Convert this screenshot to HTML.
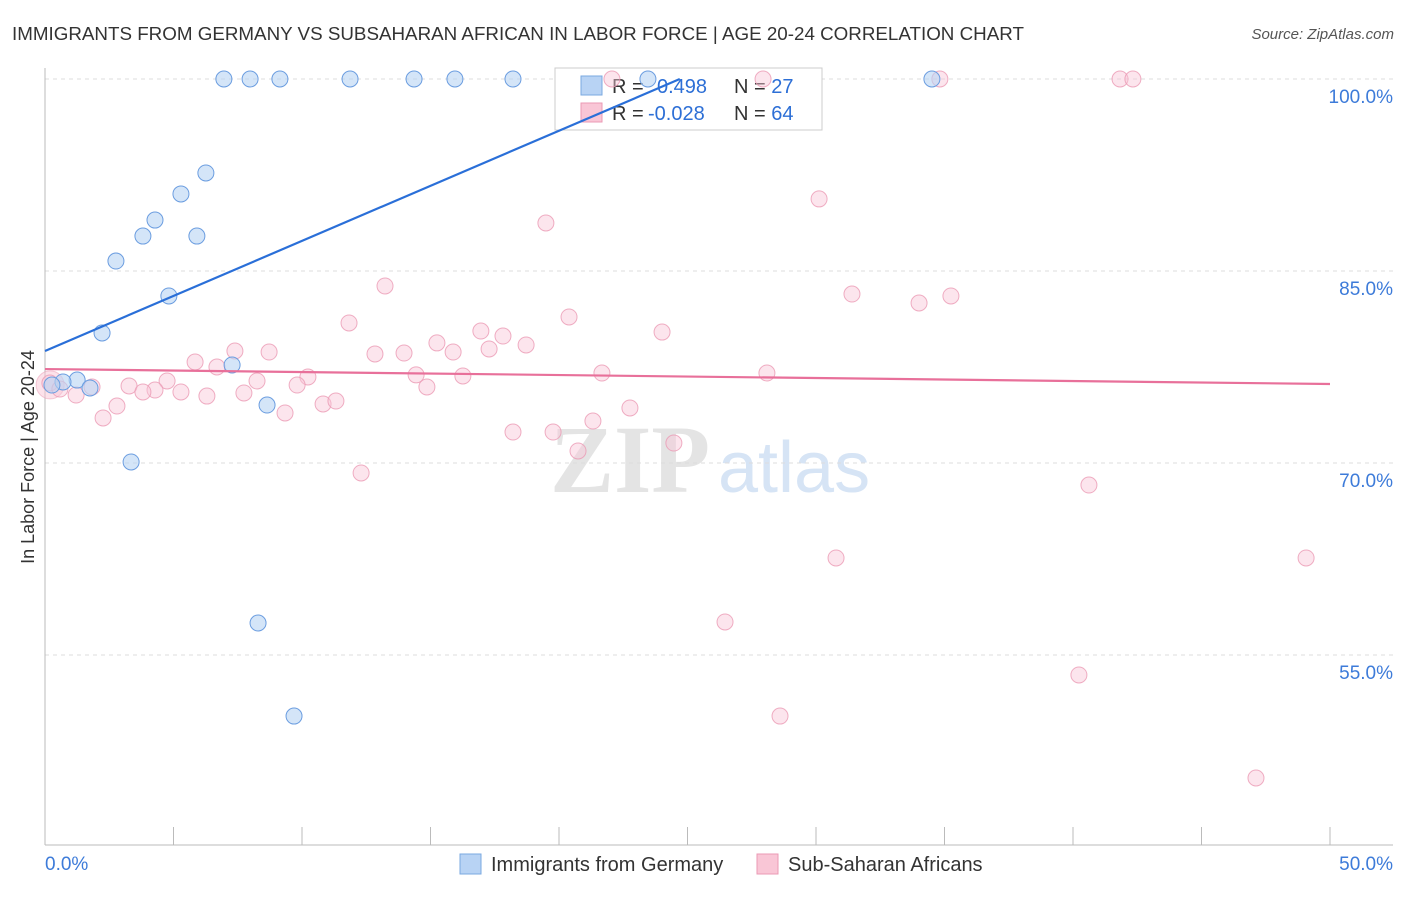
<!DOCTYPE html>
<html><head><meta charset="utf-8"><style>
body{margin:0;background:#fff;font-family:"Liberation Sans",sans-serif;}
</style></head><body>
<svg id="chart" width="1406" height="892" xmlns="http://www.w3.org/2000/svg" style="font-family:'Liberation Sans',sans-serif">
<text x="12" y="40" font-size="18.8" fill="#333">IMMIGRANTS FROM GERMANY VS SUBSAHARAN AFRICAN IN LABOR FORCE | AGE 20-24 CORRELATION CHART</text>
<text x="1394" y="39" font-size="15" fill="#555" font-style="italic" text-anchor="end">Source: ZipAtlas.com</text>
<text x="550" y="492" font-size="96" fill="#e4e4e4" font-weight="bold" font-family="Liberation Serif,serif">ZIP</text>
<text x="718" y="492" font-size="72" fill="#d6e4f5">atlas</text>
<text transform="translate(34,457) rotate(-90)" font-size="18" fill="#333" text-anchor="middle">In Labor Force | Age 20-24</text>
<g id="grid"></g>
<g>
<rect x="555" y="68" width="267" height="62" fill="#fff" stroke="#ccc"/>
<rect x="581" y="76" width="21" height="19" fill="#b8d3f4" stroke="#7aa8e0"/>
<rect x="581" y="103" width="21" height="19" fill="#f9c6d6" stroke="#eb9ab4"/>
<text x="612" y="93" font-size="20" fill="#333">R =  <tspan fill="#2d6fd6" x="657">0.498</tspan></text>
<text x="734" y="93" font-size="20" fill="#333">N = <tspan fill="#2d6fd6">27</tspan></text>
<text x="612" y="120" font-size="20" fill="#333">R = <tspan fill="#2d6fd6" x="648">-0.028</tspan></text>
<text x="734" y="120" font-size="20" fill="#333">N = <tspan fill="#2d6fd6">64</tspan></text>
</g>
<g id="marks"></g>
<g>
<rect x="460" y="854" width="21" height="20" fill="#b8d3f4" stroke="#7aa8e0"/>
<text x="491" y="871" font-size="20" fill="#333">Immigrants from Germany</text>
<rect x="757" y="854" width="21" height="20" fill="#f9c6d6" stroke="#eb9ab4"/>
<text x="788" y="871" font-size="20" fill="#333">Sub-Saharan Africans</text>
</g>
</svg>
<script>
const yTicks=[100,85,70,55];
const xTickLabels=["0.0%","50.0%"];
const blueX=[6.96,7.98,9.14,11.87,14.36,15.95,18.21,23.46,34.51,6.26,5.29,4.28,3.81,5.91,2.76,4.82,2.22,7.28,1.25,0.70,1.75,0.27,8.64,3.35,8.29,9.69];
const blueY=[100,100,100,100,100,100,100,100,100,92.66,91.02,88.98,87.73,87.73,85.78,83.05,80.16,77.66,76.48,76.33,75.86,76.09,74.53,70.08,57.5,50.23];
const pinkX=[41.83,42.33,34.82,27.94,22.06,30.12,19.49,13.23,31.40,34.01,35.25,11.83,20.39,24.01,16.96,17.82,15.25,18.72,17.28,15.88,12.84,13.97,7.39,8.72,5.84,6.69,14.44,16.26,21.67,28.09,10.23,14.86,9.81,8.25,4.75,3.27,4.28,3.81,5.29,6.30,7.74,1.21,1.83,2.80,9.34,10.82,11.32,2.26,22.76,21.32,18.21,19.77,20.74,24.47,12.30,40.62,30.78,49.07,26.46,40.23,28.60,47.12,0.19,0.58];
const pinkY=[100,100,100,100,100,90.63,88.75,83.83,83.2,82.5,83.05,80.94,81.41,80.23,80.31,79.92,79.38,79.22,78.91,78.67,78.52,78.59,78.75,78.67,77.89,77.5,76.88,76.80,77.03,77.03,76.72,75.94,76.09,76.41,76.41,76.02,75.7,75.55,75.55,75.23,75.47,75.31,75.94,74.45,73.91,74.61,74.84,73.52,74.3,73.28,72.42,72.42,70.94,71.56,69.22,68.28,62.58,62.58,57.58,53.44,50.23,45.39,76.25,75.78];
const blueTrend=[0,78.75,24.7,100];
const pinkTrend=[0,77.34,50,76.17];
const NS="http://www.w3.org/2000/svg";
const sx=v=>45+v*25.7, sy=v=>79+(100-v)*12.8;
function mk(p,tag,at){const e=document.createElementNS(NS,tag);for(const k in at)e.setAttribute(k,at[k]);p.appendChild(e);return e;}
const g=document.getElementById('grid'),m=document.getElementById('marks');
yTicks.forEach(t=>{
 const l=mk(g,'line',{x1:45,x2:1393,y1:sy(t),y2:sy(t),stroke:'#ddd','stroke-dasharray':'4,4'});
 
 
 const tx=mk(g,'text',{x:1393,y:sy(t)+24,'font-size':19,fill:'#3d7bd9','text-anchor':'end'});tx.textContent=t.toFixed(1)+'%';
 
 
});
const ax=mk(g,'line',{x1:45,x2:45,y1:68,y2:845,stroke:'#bbb'});


const bx=mk(g,'line',{x1:45,x2:1393,y1:845,y2:845,stroke:'#bbb'});


for(let i=0;i<=10;i++){const t=mk(g,'line',{x1:sx(i*5),x2:sx(i*5),y1:827,y2:845,stroke:'#bbb'});
 
 }
[[0,'start',45],[1,'end',1393]].forEach(([i,a,x])=>{const t=mk(g,'text',{x:x,y:870,'font-size':19,fill:'#3d7bd9','text-anchor':a});t.textContent=xTickLabels[i];
 
 });
mk(m,'circle',{cx:sx(0.2),cy:sy(76.1),r:14,fill:'#f9c6d6','fill-opacity':0.5,stroke:'#eb9ab4','stroke-opacity':0.5});
pinkX.forEach((x,i)=>{const c=mk(m,'circle',{cx:sx(x),cy:sy(pinkY[i]),r:8,fill:'#f9c6d6','fill-opacity':0.45,stroke:'#eb9ab4','stroke-width':1,'stroke-opacity':0.8});
 
 });
blueX.forEach((x,i)=>{const c=mk(m,'circle',{cx:sx(x),cy:sy(blueY[i]),r:8,fill:'#b8d3f4','fill-opacity':0.6,stroke:'#6b9de0','stroke-width':1});
 
 });
const bl=mk(m,'line',{x1:sx(blueTrend[0]),y1:sy(blueTrend[1]),x2:sx(blueTrend[2]),y2:sy(blueTrend[3]),stroke:'#2a6fd8','stroke-width':2.2});


const pl=mk(m,'line',{x1:sx(pinkTrend[0]),y1:sy(pinkTrend[1]),x2:sx(pinkTrend[2]),y2:sy(pinkTrend[3]),stroke:'#e8709a','stroke-width':2.2});


</script>
</body></html>
